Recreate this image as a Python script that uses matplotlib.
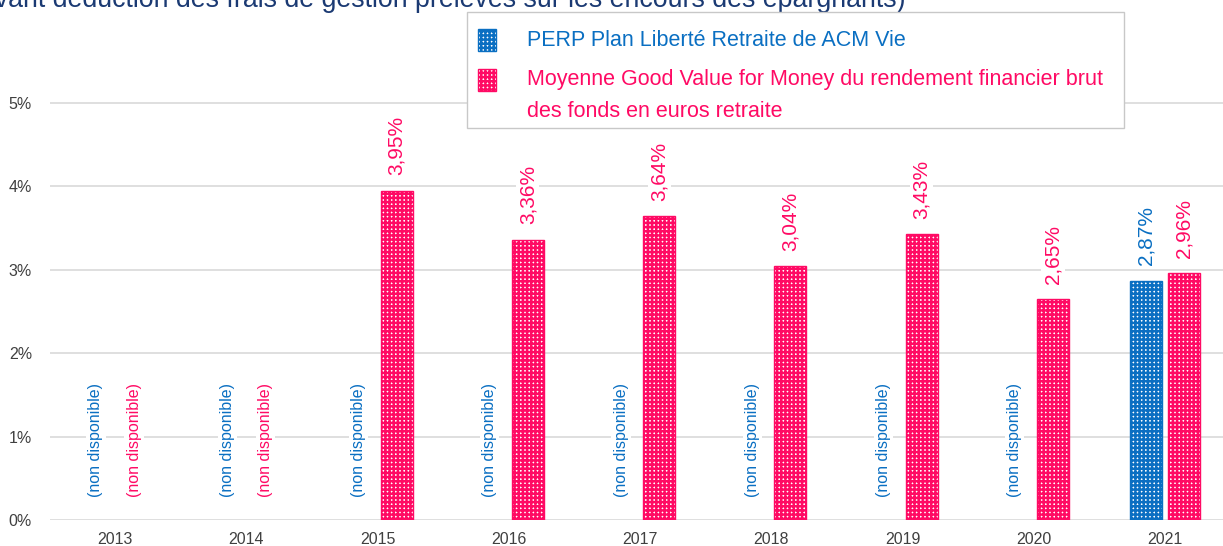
import matplotlib
matplotlib.use('Agg')
import matplotlib.pyplot as plt
from matplotlib.patches import Rectangle
import numpy as np

plt.rcParams['font.family'] = ['Liberation Sans', 'DejaVu Sans']
plt.rcParams['hatch.linewidth'] = 1.8

years = ['2013', '2014', '2015', '2016', '2017', '2018', '2019', '2020', '2021']
perp = [None, None, None, None, None, None, None, None, 2.87]
gvm = [None, None, 3.95, 3.36, 3.64, 3.04, 3.43, 2.65, 2.96]
label_perp = 'PERP Plan Liberté Retraite de ACM Vie'
label_gvm = 'Moyenne Good Value for Money du rendement financier brut\ndes fonds en euros retraite'
title = '(avant déduction des frais de gestion prélevés sur les encours des épargnants)'
na_text = '(non disponible)'

blue = '#0a6fc2'
pink = '#ff0a64'
navy = '#1b3a73'
grey_txt = '#404040'

W, H = 1223, 546
fig = plt.figure(figsize=(W / 100, H / 100), dpi=100)
ax = fig.add_axes([50 / W, 26 / H, 1 - 50 / W, 520 / H])

x = np.arange(len(years))
off = 0.145
bw = 0.244

def fmt(v):
    return ('%.2f' % v).replace('.', ',') + '%'

for vals, sign, col in [(perp, -1, blue), (gvm, 1, pink)]:
    for i, v in enumerate(vals):
        xi = x[i] + sign * off
        if v is None:
            ax.text(xi, 0.28, na_text, rotation=90, ha='center', va='bottom',
                    color=col, fontsize=11.5, zorder=4,
                    bbox=dict(facecolor='white', edgecolor='none', pad=1.5))
        else:
            ax.bar(xi, v, width=bw, facecolor='white', edgecolor=col,
                   hatch='++++', linewidth=1, zorder=3)
            ax.annotate(fmt(v), (xi, v), xytext=(0, 11), textcoords='offset points',
                        rotation=90, ha='center', va='bottom', color=col,
                        fontsize=15, zorder=4,
                        bbox=dict(facecolor='white', edgecolor='none', pad=1.5))

ax.set_xlim(-0.495, 8.44)
ax.set_ylim(0, 520 / 83.4)
ax.set_yticks([0, 1, 2, 3, 4, 5])
ax.set_yticklabels(['%d%%' % t for t in range(6)])
ax.set_xticks(x)
ax.set_xticklabels(years)
ax.tick_params(axis='both', length=0, labelsize=11.5, labelcolor=grey_txt)
ax.tick_params(axis='y', pad=13)
ax.tick_params(axis='x', pad=9)
for s in ax.spines.values():
    s.set_visible(False)
ax.yaxis.grid(True, color='#d9d9d9', linewidth=1.2, zorder=0)
ax.set_axisbelow(True)

# legend drawn by hand (pixel positions from the top-left corner)
def px(xp, yp):
    return xp / W, 1 - yp / H

fig.patches.append(Rectangle(px(467, 128), (1124 - 467) / W, 116 / H,
                             transform=fig.transFigure, facecolor='white',
                             edgecolor='#c8c8c8', linewidth=1, zorder=5))
entries = [(label_perp, blue, 40), (label_gvm, pink, 80)]
for lab, col, yc in entries:
    fig.patches.append(Rectangle(px(478, yc + 11), 18 / W, 22 / H,
                                 transform=fig.transFigure, facecolor='white',
                                 edgecolor=col, hatch='++++', linewidth=1, zorder=6))
    for k, line in enumerate(lab.split('\n')):
        fig.text(*px(527, yc + 32 * k), line, ha='left', va='center',
                 fontsize=15.5, color=col, zorder=7)

fig.text(906 / W, 1 - 7 / H, title, ha='right', va='baseline', fontsize=19.3, color=navy)

fig.savefig('out.png', dpi=100)
